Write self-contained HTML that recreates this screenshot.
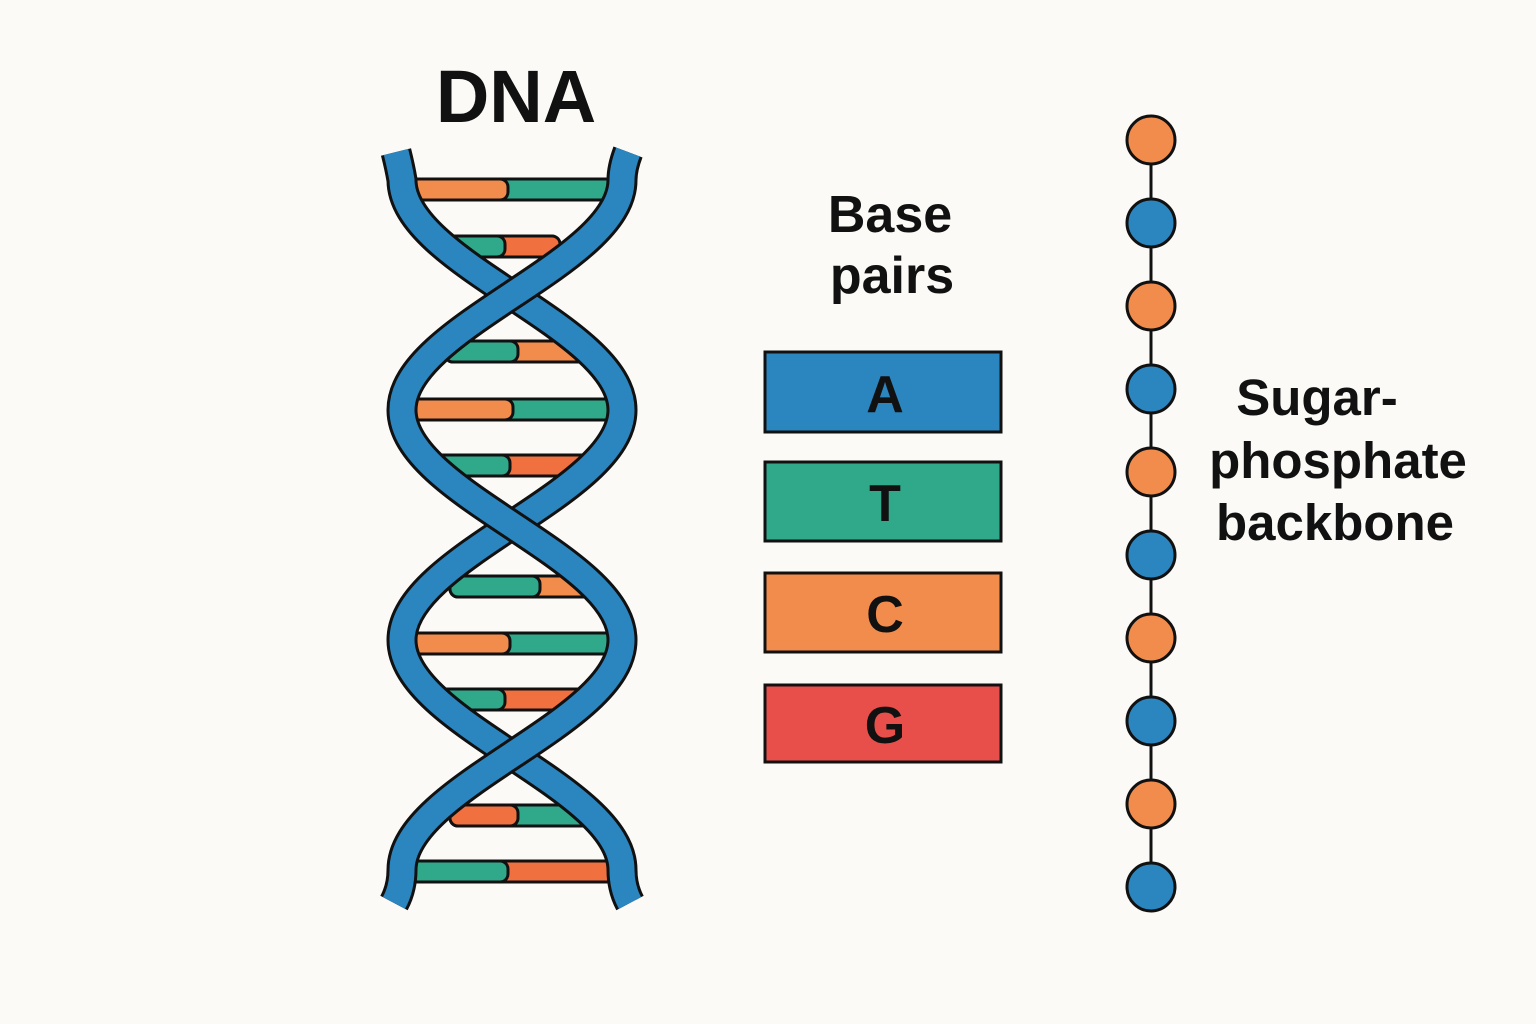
<!DOCTYPE html>
<html><head><meta charset="utf-8"><style>
html,body{margin:0;padding:0;background:#fcfaf7;}
svg{display:block}
text{font-family:"Liberation Sans","DejaVu Sans",sans-serif;font-weight:bold;fill:#111}
</style></head><body>
<svg width="1536" height="1024" viewBox="0 0 1536 1024">
<rect width="1536" height="1024" fill="#fcfaf7"/>
<text x="516" y="122" font-size="74" text-anchor="middle">DNA</text>
<g stroke="#111" stroke-width="3">
<rect x="405" y="179" width="210" height="21" rx="8" fill="#2fa98a"/><rect x="405" y="179" width="103" height="21" rx="8" fill="#f28c4c"/>
<rect x="438" y="236" width="122" height="21" rx="8" fill="#f07040"/><rect x="438" y="236" width="67" height="21" rx="8" fill="#2fa98a"/>
<rect x="445" y="341" width="147" height="21" rx="8" fill="#f28c4c"/><rect x="445" y="341" width="73" height="21" rx="8" fill="#2fa98a"/>
<rect x="405" y="399" width="217" height="21" rx="8" fill="#2fa98a"/><rect x="405" y="399" width="108" height="21" rx="8" fill="#f28c4c"/>
<rect x="432" y="455" width="163" height="21" rx="8" fill="#f07040"/><rect x="432" y="455" width="78" height="21" rx="8" fill="#2fa98a"/>
<rect x="450" y="576" width="147" height="21" rx="8" fill="#f28c4c"/><rect x="450" y="576" width="90" height="21" rx="8" fill="#2fa98a"/>
<rect x="408" y="633" width="214" height="21" rx="8" fill="#2fa98a"/><rect x="408" y="633" width="102" height="21" rx="8" fill="#f28c4c"/>
<rect x="428" y="689" width="162" height="21" rx="8" fill="#f07040"/><rect x="428" y="689" width="77" height="21" rx="8" fill="#2fa98a"/>
<rect x="450" y="805" width="140" height="21" rx="8" fill="#2fa98a"/><rect x="450" y="805" width="68" height="21" rx="8" fill="#f07040"/>
<rect x="403" y="861" width="222" height="21" rx="8" fill="#f07040"/><rect x="403" y="861" width="105" height="21" rx="8" fill="#2fa98a"/>
</g>
<g fill="none" stroke-linecap="butt">
<path d="M396 152 Q400 168 402 180 C402 264 622 326 622 410 C622 494 402 556 402 640 C402 724 622 786 622 870 Q622 888 630 903" stroke="#111" stroke-width="31"/>
<path d="M396 152 Q400 168 402 180 C402 264 622 326 622 410 C622 494 402 556 402 640 C402 724 622 786 622 870 Q622 888 630 903" stroke="#2b86c0" stroke-width="25"/>
<path d="M628 152 Q622 168 622 180 C622 264 402 326 402 410 C402 494 622 556 622 640 C622 724 402 786 402 870 Q402 888 394 903" stroke="#111" stroke-width="31"/>
<path d="M628 152 Q622 168 622 180 C622 264 402 326 402 410 C402 494 622 556 622 640 C622 724 402 786 402 870 Q402 888 394 903" stroke="#2b86c0" stroke-width="25"/>
</g>
<text x="890" y="232" font-size="52" text-anchor="middle">Base</text>
<text x="892" y="293" font-size="52" text-anchor="middle">pairs</text>
<g stroke="#111" stroke-width="3">
<rect x="765" y="352" width="236" height="80" fill="#2b86c0"/>
<rect x="765" y="462" width="236" height="79" fill="#2fa98a"/>
<rect x="765" y="573" width="236" height="79" fill="#f28c4c"/>
<rect x="765" y="685" width="236" height="77" fill="#e94f4a"/>
</g>
<text x="885" y="412" font-size="52" text-anchor="middle">A</text>
<text x="885" y="521" font-size="52" text-anchor="middle">T</text>
<text x="885" y="632" font-size="52" text-anchor="middle">C</text>
<text x="885" y="743" font-size="52" text-anchor="middle">G</text>
<line x1="1151" y1="140" x2="1151" y2="887" stroke="#111" stroke-width="3"/>
<g stroke="#111" stroke-width="3">
<circle cx="1151" cy="140" r="24" fill="#f28c4c"/>
<circle cx="1151" cy="223" r="24" fill="#2b86c0"/>
<circle cx="1151" cy="306" r="24" fill="#f28c4c"/>
<circle cx="1151" cy="389" r="24" fill="#2b86c0"/>
<circle cx="1151" cy="472" r="24" fill="#f28c4c"/>
<circle cx="1151" cy="555" r="24" fill="#2b86c0"/>
<circle cx="1151" cy="638" r="24" fill="#f28c4c"/>
<circle cx="1151" cy="721" r="24" fill="#2b86c0"/>
<circle cx="1151" cy="804" r="24" fill="#f28c4c"/>
<circle cx="1151" cy="887" r="24" fill="#2b86c0"/>
</g>
<text x="1317" y="415" font-size="51" text-anchor="middle">Sugar-</text>
<text x="1338" y="478" font-size="51" text-anchor="middle">phosphate</text>
<text x="1335" y="540" font-size="51" text-anchor="middle">backbone</text>
</svg>
</body></html>
